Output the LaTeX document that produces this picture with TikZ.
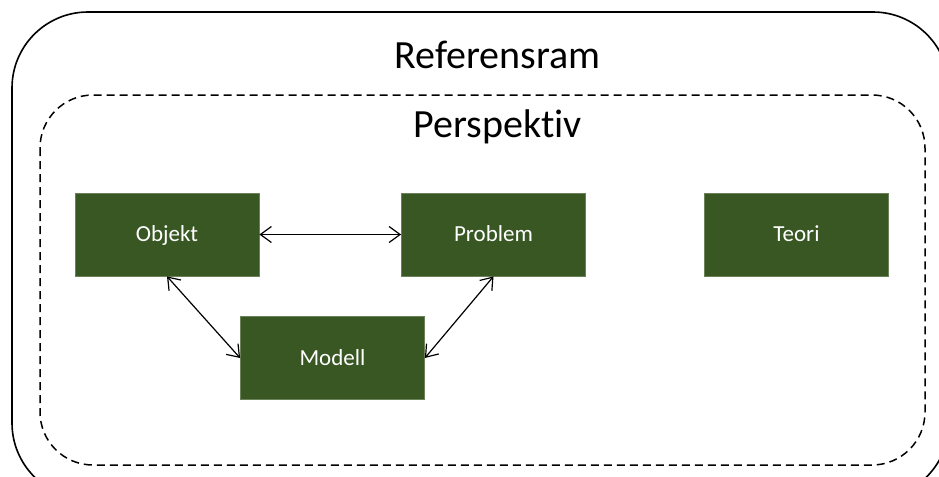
\documentclass[tikz,border=0pt]{standalone}
\usepackage{fontspec}
\setmainfont{Carlito}[Ligatures=NoCommon]
\usetikzlibrary{arrows.meta}
\definecolor{boxgreen}{RGB}{56, 87, 35}

\begin{document}
\begin{tikzpicture}[x=0.5pt, y=-0.5pt,
    block/.style={draw=boxgreen!75!white, line width=0.4pt, fill=boxgreen, text=white,
      minimum width=92pt, minimum height=41.5pt, text height=7.4pt, text depth=0pt,
      font=\fontsize{11.5}{14}\selectfont},
    link/.style={{Straight Barb[length=5.5pt, width=8pt]}-{Straight Barb[length=5.5pt, width=8pt]}, line width=0.6pt},
    frametitle/.style={anchor=base, font=\fontsize{20}{24}\selectfont},
  ]
  \useasboundingbox (0,0) rectangle (939,477);
  \clip (0,0) rectangle (939,477);

  % frames
  \draw[line width=0.8pt, rounded corners=38pt] (12,12) rectangle (949,499);
  \draw[line width=0.75pt, dash pattern=on 4pt off 2.5pt, rounded corners=26.5pt] (40,95) rectangle (925,465);

  \node[frametitle] (refram) at (497.5,68) {Referensram};
  \node[frametitle] (persp) at (497.5,137) {Perspektiv};

  % blocks
  \node[block] (objekt) at (167,234.5) {Objekt};
  \node[block] (problem) at (493.5,234.5) {Problem};
  \node[block] (teori) at (796.5,234.5) {Teori};
  \node[block] (modell) at (332.5,358) {Modell};

  \draw[link] (objekt) -- (problem);
  \draw[link] (objekt.south) -- (modell.west);
  \draw[link] (problem.south) -- (modell.east);
\end{tikzpicture}
\end{document}
